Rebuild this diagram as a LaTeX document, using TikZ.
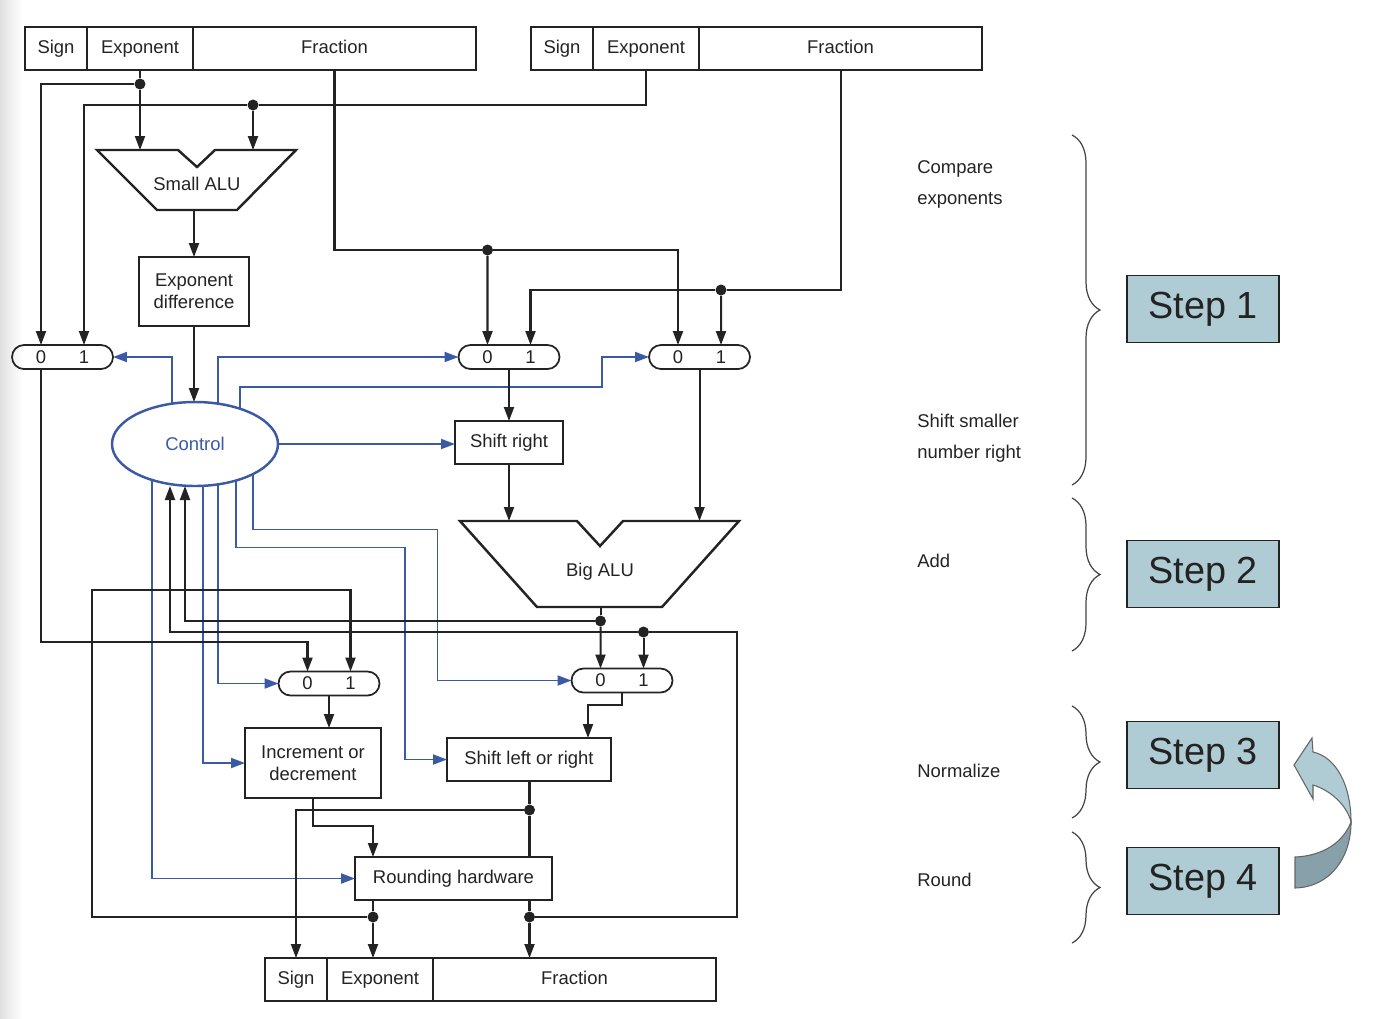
\documentclass[tikz,border=0pt]{standalone}
\usepackage{fontspec}
\setmainfont{Liberation Sans}
\usetikzlibrary{calc,arrows.meta,shapes.geometric,decorations.pathreplacing,backgrounds}

\definecolor{ink}{RGB}{35,35,35}
\definecolor{ctlblue}{RGB}{58,90,165}
\definecolor{stepfill}{RGB}{175,203,211}
\definecolor{ribbondark}{RGB}{136,160,170}

\newcommand{\pix}{0.02cm} % one pixel of the layout grid

\tikzstyle{wire}=[draw=ink, line width=1.15pt]
\tikzstyle{sig}=[draw=ctlblue, line width=1.1pt]
\tikzstyle{cell}=[draw=ink, line width=1.4pt, minimum height=43*\pix, inner sep=0pt, outer sep=0pt, text height=0.75em, text depth=0.22em]
\tikzstyle{unit}=[draw=ink, line width=1.4pt, fill=white, align=center, inner sep=0pt, outer sep=0pt]
\tikzstyle{aluline}=[draw=ink, line width=1.4pt, line join=miter]
\tikzstyle{muxbox}=[draw=ink, line width=1pt, rounded corners=0.24cm, minimum width=101*\pix, minimum height=24*\pix, inner sep=0pt, outer sep=0pt]
\tikzstyle{muxlbl}=[inner sep=0pt]
\tikzstyle{ctlnode}=[ellipse, draw=ctlblue, line width=1.4pt, fill=white, text=ctlblue, minimum width=166*\pix, minimum height=84*\pix, inner sep=0pt, outer sep=0pt]
\tikzstyle{junct}=[circle, fill=ink, inner sep=0pt, minimum size=0.22cm]
\tikzstyle{note}=[anchor=west, align=left, inner sep=0pt, font=\fontsize{10.5}{17.6}\selectfont]
\tikzstyle{grp}=[draw=ink!85, line width=0.7pt, decorate, decoration={brace, amplitude=0.56cm}]
\tikzstyle{stepbox}=[draw=ink, line width=1pt, fill=stepfill, minimum width=152*\pix, minimum height=67*\pix, font=\fontsize{21.5}{26}\selectfont]

% sign / exponent / fraction register, #2 = top left corner
\newcommand{\drawregister}[2]{
  \node[cell, minimum width=62*\pix, anchor=north west] (#1s) at (#2) {Sign};
  \node[cell, minimum width=106*\pix, anchor=west] (#1e) at (#1s.east) {Exponent};
  \node[cell, minimum width=283*\pix, anchor=west] (#1f) at (#1e.east) {Fraction};
}
% two way multiplexor, inputs named #1a and #1b
\newcommand{\muxnode}[2]{
  \node[muxbox] (#1) at (#2) {};
  \node[muxlbl] (#1a) at ($(#1)+(-21.5,0)$) {0};
  \node[muxlbl] (#1b) at ($(#1)+(21.5,0)$) {1};
}

\begin{document}
\begin{tikzpicture}[x=0.02cm, y=-0.02cm, text=ink, font=\fontsize{10.5}{12.6}\selectfont,
  >={Triangle[length=0.28cm,width=0.2cm]}]
	\useasboundingbox (0,0) rectangle (1381,1018);
	\shade[left color=black!12, right color=white] (0,0) rectangle (22,1018);

	% registers
	\drawregister{ta}{25,27}
	\drawregister{tb}{531,27}
	\drawregister{bo}{265,958}

	% alus
	\draw[aluline] (97,150) -- (178,150) -- (197,167) -- (215,150) -- (296,150) -- (237,210) -- (157,210) -- cycle;
	\node (salu) at (197,184) {Small ALU};
	\coordinate (salu-a) at (140,150);
	\coordinate (salu-b) at (253,150);
	\coordinate (salu-out) at (194,210);
	\draw[aluline] (460,521) -- (577,521) -- (600,546) -- (623,521) -- (739,521) -- (662,607) -- (537,607) -- cycle;
	\node (balu) at (600,572) {Big ALU};
	\coordinate (balu-a) at (509,521);
	\coordinate (balu-b) at (699.5,521);
	\coordinate (balu-out) at (600.5,607);

	% boxes
	\node[unit, minimum width=110*\pix, minimum height=69*\pix] (ediff) at (194,291.5) {Exponent\\difference};
	\node[unit, minimum width=108*\pix, minimum height=43*\pix] (shr) at (509,442.5) {Shift right};
	\node[unit, minimum width=136*\pix, minimum height=70*\pix] (incdec) at (313,763) {Increment or\\decrement};
	\node[unit, minimum width=164*\pix, minimum height=43*\pix] (shlr) at (529,759.5) {Shift left or right};
	\node[unit, minimum width=197*\pix, minimum height=43*\pix] (rh) at (453.5,878.5) {Rounding hardware};

	% muxes
	\muxnode{m1}{62.5,357}
	\muxnode{m2}{509,357}
	\muxnode{m3}{699.5,357}
	\muxnode{m4}{329,683.5}
	\muxnode{m5}{622,680.5}

	\node[ctlnode] (ctrl) at (195,444) {Control};

	% junctions
	\node[junct] (j1) at (140,84) {};
	\node[junct] (j2) at (253,105) {};
	\node[junct] (j3) at (487.5,250) {};
	\node[junct] (j4) at (721,290) {};
	\node[junct] (j5) at (600.5,621) {};
	\node[junct] (j6) at (643.5,632) {};
	\node[junct] (j7) at (529.5,810) {};
	\node[junct] (j8) at (373,917) {};
	\node[junct] (j9) at (529.5,917) {};
	\coordinate (lane1) at (40,642);
	\coordinate (lane2) at (92,590);
	\coordinate (lane3) at (737,632);

	% exponents
	\draw[wire] (tae.south) -- (j1);
	\draw[wire,->] (j1) -- (salu-a);
	\draw[wire,->] (j1) -| (m1a |- m1.north);
	\draw[wire] (tbe.south) |- (j2);
	\draw[wire,->] (j2) -- (salu-b);
	\draw[wire,->] (j2) -| (m1b |- m1.north);
	\draw[wire,->] (salu-out) -- (ediff.north);
	\draw[wire,->] (ediff.south) -- (ediff.south |- ctrl.north);

	% fractions
	\draw[wire] (taf.south) |- (j3);
	\draw[wire,->] (j3) -- (m2a |- m2.north);
	\draw[wire,->] (j3) -| (m3a |- m3.north);
	\draw[wire] (tbf.south) |- (j4);
	\draw[wire,->] (j4) -- (m3b |- m3.north);
	\draw[wire,->] (j4) -| (m2b |- m2.north);
	\draw[wire,->] (m2.south) -- (shr.north);
	\draw[wire,->] (shr.south) -- (balu-a);
	\draw[wire,->] (m3.south) -- (balu-b);

	% normalize and round
	\draw[wire] (balu-out) -- (j5);
	\draw[wire,->] (j5) -- (m5a |- m5.north);
	\draw[wire,->] (j5) -| ($(ctrl.south)+(-10,0)$);
	\draw[wire,->] (m1a |- m1.south) |- (lane1 -| m4a) -- (m4a |- m4.north);
	\draw[wire,->] (m4.south) -- (m4.south |- incdec.north);
	\draw[wire,->] (m5.south) -- ++(0,12) -| ($(shlr.north)+(59,0)$);
	\draw[wire,->] (incdec.south) -- ++(0,28) -| (rh.north -| j8);
	\draw[wire] (shlr.south -| j7) -- (j7) -- (rh.north -| j7);
	\draw[wire,->] (j7) -| (bos.north);
	\draw[wire] (rh.south -| j8) -- (j8);
	\draw[wire,->] (j8) -- (boe.north -| j8);
	\draw[wire] (rh.south -| j9) -- (j9);
	\draw[wire,->] (j9) -- (bof.north -| j9);
	% loops back for a second pass
	\draw[wire,->] (j8) -| (lane2) -| (m4b |- m4.north);
	\draw[wire] (j9) -| (lane3) -- (j6);
	\draw[wire,->] (j6) -- (m5b |- m5.north);
	\draw[wire,->] (j6) -| ($(ctrl.south)+(-25,0)$);

	% control lines
	\begin{scope}[on background layer]
	\draw[sig,->] ($(ctrl)+(-23,0)$) |- (m1.east);
	\draw[sig,->] ($(ctrl)+(23,0)$) |- (m2.west);
	\draw[sig,->] ($(ctrl)+(45,0)$) |- ($(m3.west)+(-47,30)$) |- (m3.west);
	\draw[sig,->] ($(ctrl)+(58,0)$) |- ($(m5.west)+(-134,-151)$) |- (m5.west);
	\draw[sig,->] ($(ctrl)+(41,0)$) |- ($(shlr.west)+(-42,-212)$) |- (shlr.west);
	\draw[sig,->] ($(ctrl)+(23,0)$) |- (m4.west);
	\draw[sig,->] ($(ctrl)+(8,0)$) |- (incdec.west);
	\draw[sig,->] ($(ctrl)+(-43,0)$) |- (rh.west);
	\end{scope}
	\draw[sig,->] (ctrl.east) -- (ctrl.east -| shr.west);

	% steps
	\node[note] (cmp) at (917,184.5) {Compare\\exponents};
	\node[note] (shs) at (917,438.5) {Shift smaller\\number right};
	\node[note] (add) at (917,561) {Add};
	\node[note] (nrm) at (917,771) {Normalize};
	\node[note] (rnd) at (917,880) {Round};
	\draw[grp] (1072,135) -- (1072,485);
	\draw[grp] (1072,498) -- (1072,651);
	\draw[grp] (1072,706) -- (1072,818);
	\draw[grp] (1072,832) -- (1072,943);
	\node[stepbox] (step1) at (1203,309) {Step 1};
	\node[stepbox] (step2) at (1203,574) {Step 2};
	\node[stepbox] (step3) at (1203,755) {Step 3};
	\node[stepbox] (step4) at (1203,881) {Step 4};
	% back from step 4 to step 3
	\filldraw[fill=ribbondark, draw=ink!70, line width=0.6pt] (1295,888) .. controls (1330,887) and (1351,858) .. (1351,822) .. controls (1343,843) and (1322,856) .. (1295,857) -- cycle;
	\filldraw[fill=stepfill, draw=ink!70, line width=0.6pt] (1351,822) .. controls (1351,785) and (1336,757) .. (1313,752) -- (1312,738) -- (1294,765) -- (1313,799) -- (1313,785) .. controls (1330,790) and (1347,805) .. (1351,822) -- cycle;
\end{tikzpicture}
\end{document}
